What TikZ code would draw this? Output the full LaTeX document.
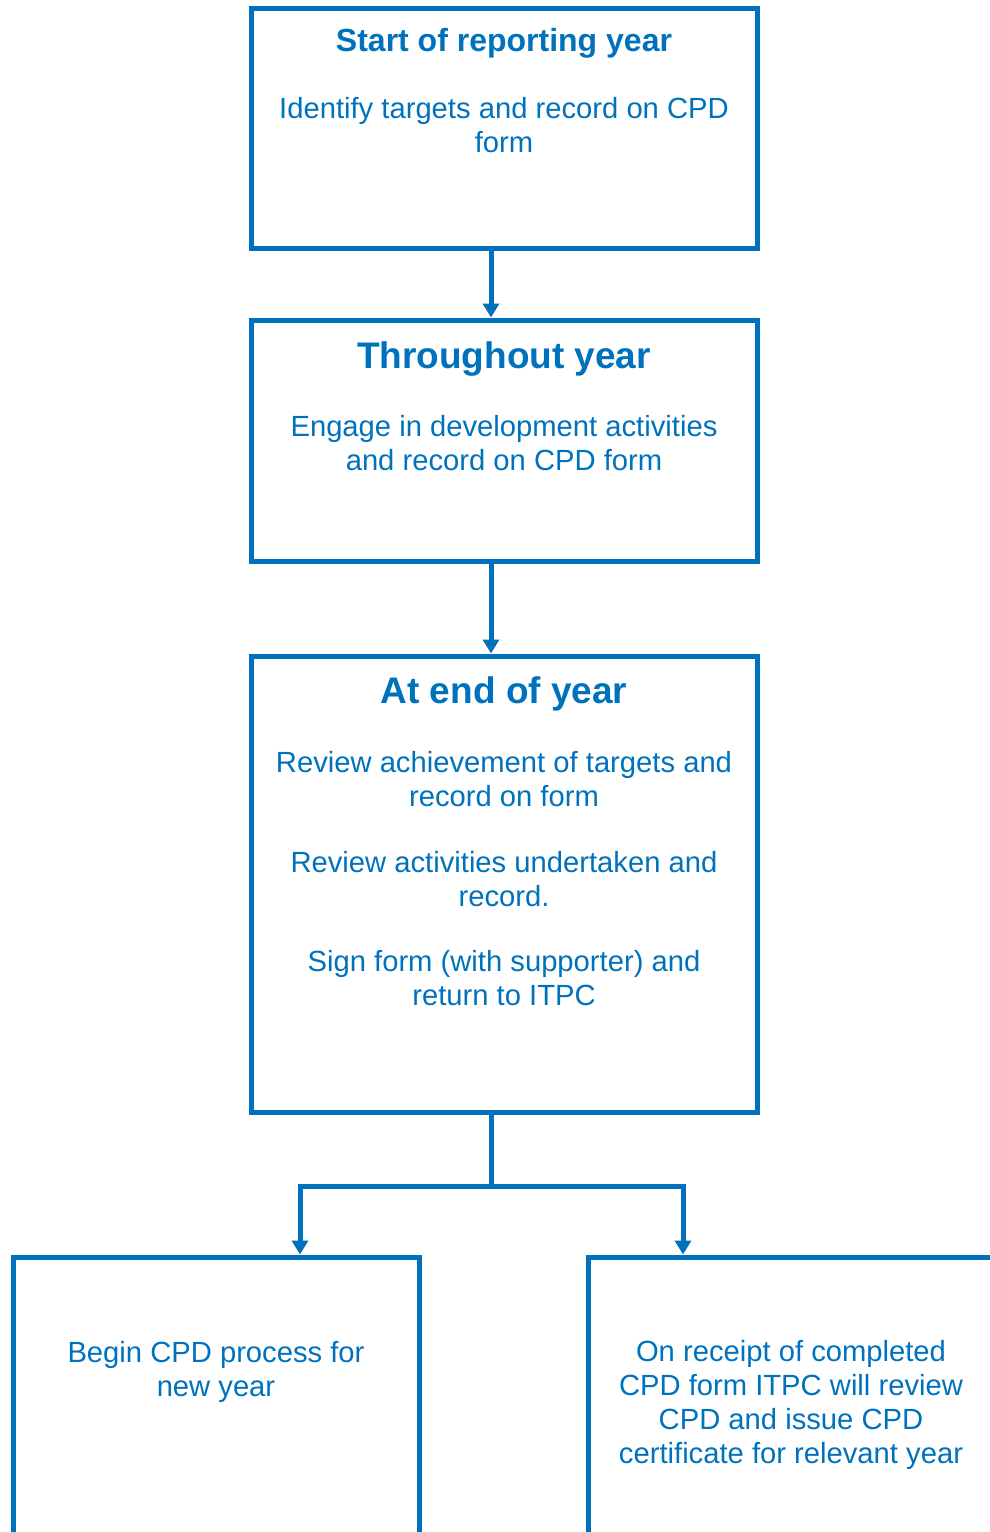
\documentclass[tikz,border=0pt]{standalone}
\usepackage{fontspec}
\setmainfont{Liberation Sans}
\usepackage{tikz}
\usetikzlibrary{arrows.meta, positioning}
\definecolor{itpcblue}{RGB}{0,114,189}

\begin{document}
\begin{tikzpicture}[
    x=0.5pt, y=-0.5pt,
    stage/.style={rectangle, draw=itpcblue, line width=2.5pt, minimum width=253pt, inner sep=0pt},
    heading/.style={text=itpcblue, font=\bfseries\fontsize{18.5}{22}\selectfont},
    body/.style={text=itpcblue, align=center, font=\fontsize{14.6}{17}\selectfont},
    link/.style={draw=itpcblue, line width=2.5pt},
    arrow/.style={link, -{Triangle[width=8pt, length=7pt]}}
]
    \useasboundingbox (0,0) rectangle (990,1532);
    \clip (0,0) rectangle (990,1532);

    % Stage boxes
    \node[stage, minimum height=120pt] (start) at (504,128) {};
    \node[stage, minimum height=120.5pt] (during) at (504,440.5) {};
    \node[stage, minimum height=228pt] (finish) at (504,884) {};
    \node[stage, minimum width=203pt, minimum height=171.5pt] (newyear) at (216,1428.5) {};
    \node[stage, minimum width=206pt, minimum height=171.5pt] (certify) at (794,1428.5) {};

    % Start of year
    \node[heading, font=\bfseries\fontsize{16}{19}\selectfont] (starthead) at (504,43) {Start of reporting year};
    \node[body] (starttext) at (504,125) {Identify targets and record on CPD\\form};

    % Throughout year
    \node[heading] (duringhead) at (504,359) {Throughout year};
    \node[body] (duringtext) at (504,443) {Engage in development activities\\and record on CPD form};

    % End of year
    \node[heading] (finishhead) at (504,694) {At end of year};
    \node[body] (review) at (504,779) {Review achievement of targets and\\record on form};
    \node[body] (activities) at (504,879) {Review activities undertaken and\\record.};
    \node[body] (sign) at (504,978) {Sign form (with supporter) and\\return to ITPC};

    % Outcomes
    \node[body] (newyeartext) at (216,1372) {Begin CPD process for\\new year};
    \node[body] (certifytext) at (791,1405) {On receipt of completed\\CPD form ITPC will review\\CPD and issue CPD\\certificate for relevant year};

    % Connectors
    \draw[arrow] ([xshift=-6.5pt]start.south) -- ([xshift=-6.5pt]during.north);
    \draw[arrow] ([xshift=-6.5pt]during.south) -- ([xshift=-6.5pt]finish.north);
    \coordinate (split) at ([xshift=-6.5pt, yshift=-36pt]finish.south);
    \draw[link] ([xshift=-6.5pt]finish.south) -- (split);
    \draw[arrow] (split) -| ([xshift=42pt]newyear.north);
    \draw[arrow] (split) -| ([xshift=-55.5pt]certify.north);
\end{tikzpicture}
\end{document}
